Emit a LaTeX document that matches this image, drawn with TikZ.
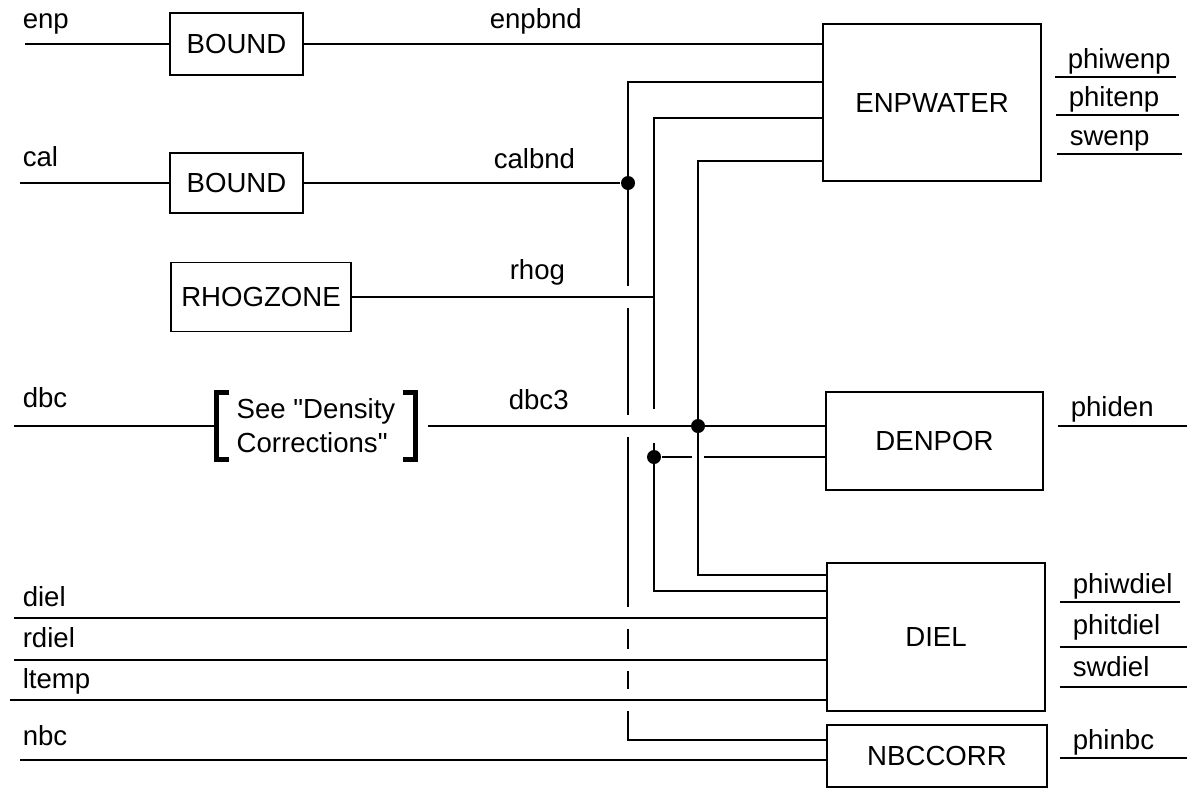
\documentclass[tikz,border=0pt]{standalone}
\usepackage{fontspec}
\setmainfont{Liberation Sans}
\usepackage{tikz}
\usetikzlibrary{positioning,calc}

\begin{document}
\begin{tikzpicture}[x=0.5pt,y=-0.5pt,line width=0.75pt,
  font=\fontsize{13.8}{17}\selectfont,
  blk/.style={draw,line width=0.8pt,inner sep=0pt},
  lbl/.style={anchor=base west,inner sep=0pt},
  dot/.style={circle,fill,inner sep=0pt,minimum size=7pt},
  brkt/.style={line width=2.4pt,miter limit=10}]
  \useasboundingbox (0,0) rectangle (1187,788);

  % boxes
  \node[blk,minimum width=66.5pt,minimum height=31pt] (bnd1) at (236.5,44) {BOUND};
  \node[blk,minimum width=66.5pt,minimum height=30pt] (bnd2) at (236.5,183) {BOUND};
  \node[blk,minimum width=90pt,minimum height=34.5pt] (rhogzone) at (261,297) {RHOGZONE};
  \node[blk,minimum width=109pt,minimum height=78.5pt] (enpwater) at (932,102.5) {ENPWATER};
  \node[blk,minimum width=108.5pt,minimum height=49pt] (denpor) at (934.5,441) {DENPOR};
  \node[blk,minimum width=109pt,minimum height=74pt] (diel) at (936,637) {DIEL};
  \node[blk,minimum width=110pt,minimum height=31pt] (nbccorr) at (937,756) {NBCCORR};

  \node[align=left,inner sep=0pt,minimum width=99pt,minimum height=33pt] (brk) at (316,426)
    {See \textquotedbl Density\\Corrections\textquotedbl};
  \draw[brkt] ([xshift=6.5pt]brk.north west) -- (brk.north west) -- (brk.south west) -- ([xshift=6.5pt]brk.south west);
  \draw[brkt] ([xshift=-6.5pt]brk.north east) -- (brk.north east) -- (brk.south east) -- ([xshift=-6.5pt]brk.south east);

  % junctions and bends
  \node[dot] (j1) at (628,183) {};
  \node[dot] (j2) at (698,426) {};
  \node[dot] (j3) at (654,457) {};
  \coordinate (cA1) at (628,82);
  \coordinate (cA2) at (628,740);
  \coordinate (cB1) at (654,118);
  \coordinate (cB2) at (654,591);
  \coordinate (cC1) at (698,161);
  \coordinate (cC2) at (698,575);

  % inputs
  \foreach \nm/\xx/\yy/\by/\tg in {enp/25/44/28/bnd1,cal/20/183/166/bnd2,dbc/14/426/407/brk,
      diel/14/618/606/diel,rdiel/14/660/647/diel,ltemp/10/700/688/diel,nbc/20/760/745/nbccorr} {
    \coordinate (in-\nm) at (\xx,\yy);
    \draw (in-\nm) -- (in-\nm -| \tg.west);
    \node[lbl] (l-\nm) at (22,\by) {\nm};
  }

  \draw (bnd1) -- (bnd1 -| enpwater.west);
  \draw (bnd2) -- (j1);
  \draw (rhogzone) -- (rhogzone -| cB1);
  \draw ([xshift=6pt]brk.east) -- (brk.east -| denpor.west);
  \draw (j3) -- (j3 -| denpor.west);
  \fill[white] (j3 -| cC1) +(-6,-4) rectangle +(6,4);

  \draw (cC1 -| enpwater.west) -- (cC1) -- (cC2) -- (cC2 -| diel.west);
  \draw (cB1 -| enpwater.west) -- (cB1) -- (cB2) -- (cB2 -| diel.west);
  \draw (cA1 -| enpwater.west) -- (cA1) -- (cA2) -- (cA2 -| nbccorr.west);

  % crossings without contact
  \foreach \p in {rhogzone,brk,in-diel,in-rdiel,in-ltemp} {
    \fill[white] (cA1 |- \p) +(-4,-11) rectangle +(4,11);
    \draw (cA1 |- \p) +(-6,0) -- +(6,0);
  }
  \fill[white] (cB1 |- brk) +(-4,-17) rectangle +(4,17);
  \draw (cB1 |- brk) +(-6,0) -- +(6,0);

  % outputs
  \foreach \nm/\yy/\xa/\xb/\by in {phiwenp/77/1055/1176/68,phitenp/115/1056/1179/106,swenp/154/1057/1182/145,
      phiden/426/1058/1187/416,phiwdiel/602/1060/1180/593,phitdiel/647/1060/1187/634,
      swdiel/687/1060/1187/676,phinbc/758/1060/1187/749} {
    \coordinate (o-\nm) at (\xa,\yy);
    \coordinate (oe-\nm) at (\xb,\yy);
    \draw (o-\nm) -- (oe-\nm);
    \node[lbl] (l-\nm) at (\xa+12,\by) {\nm};
  }

  \node[lbl] (l-enpbnd) at (489,28) {enpbnd};
  \node[lbl] (l-calbnd) at (493,168) {calbnd};
  \node[lbl] (l-rhog) at (509,279) {rhog};
  \node[lbl] (l-dbc3) at (508,409) {dbc3};
\end{tikzpicture}
\end{document}
